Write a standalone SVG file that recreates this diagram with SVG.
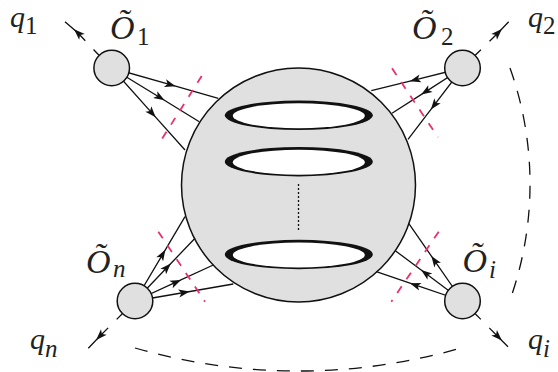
<svg xmlns="http://www.w3.org/2000/svg" width="558" height="372" viewBox="0 0 558 372">
<style>
.ln{fill:none;stroke:#111;stroke-width:1.3;marker-mid:url(#ah)}
.qd{fill:none;stroke:#111;stroke-width:1.3;stroke-dasharray:8 12 40;marker-mid:url(#ah)}
.cut{fill:none;stroke:#e8306a;stroke-width:1.8;stroke-dasharray:8 8.5}
.arc{fill:none;stroke:#111;stroke-width:1.3;stroke-dasharray:13 11}
.nd{fill:#e0e0e0;stroke:#111;stroke-width:1.5}
.lbl{font-family:"Liberation Serif","DejaVu Serif",serif;font-style:italic;font-size:30px;fill:#222}
.sub{font-family:"Liberation Serif","DejaVu Serif",serif;font-style:normal;font-size:25px;fill:#222}
.subi{font-family:"Liberation Serif","DejaVu Serif",serif;font-style:italic;font-size:25px;fill:#222}
.cal{font-family:"Liberation Serif","DejaVu Serif",serif;font-style:italic;font-size:34px;fill:#222}
</style>
<defs>
<marker id="ah" markerUnits="userSpaceOnUse" markerWidth="14" markerHeight="14" viewBox="-7 -7 14 14" refX="0" refY="0" orient="auto" overflow="visible">
<path d="M5.5,0 L-5.5,-4 L-2.8,0 L-5.5,4 Z" fill="#111"/>
</marker>
</defs>
<g id="blob">
<circle cx="298.5" cy="185" r="117" class="nd"/>
<ellipse cx="298.8" cy="115.3" rx="74" ry="14.7" fill="#111"/>
<ellipse cx="298.8" cy="115.8" rx="66" ry="12.5" fill="#fff"/>
<ellipse cx="298.8" cy="161.7" rx="74" ry="14.7" fill="#111"/>
<ellipse cx="298.8" cy="162.2" rx="66" ry="12.5" fill="#fff"/>
<ellipse cx="298.8" cy="254.5" rx="74" ry="14.7" fill="#111"/>
<ellipse cx="298.8" cy="255" rx="66" ry="12.5" fill="#fff"/>
<line x1="298.5" y1="184" x2="298.5" y2="232" stroke="#111" stroke-width="1.3" stroke-dasharray="2 2"/>
</g>
<g id="connectors">
<path class="ln" d="M111.7,68 L170.3,84.7 L218.3,98.3"/>
<path class="ln" d="M111.7,68 L159.9,97.5 L199.3,121.7"/>
<path class="ln" d="M111.7,68 L152,113.1 L185,150"/>
<path class="ln" d="M462.5,68 L415.1,79.8 L371.3,90.7"/>
<path class="ln" d="M462.5,68 L425.8,91.6 L392,113.3"/>
<path class="ln" d="M462.5,68 L434.2,105.1 L408,139.3"/>
<path class="ln" d="M135,301 L162.5,254.6 L185,216.7"/>
<path class="ln" d="M135,301 L167,267.5 L195,238.3"/>
<path class="ln" d="M135,301 L176,282.2 L213.3,265"/>
<path class="ln" d="M135,301 L184.2,292.5 L233.3,284"/>
<path class="ln" d="M462.5,301 L434.5,260.6 L408.7,223.3"/>
<path class="ln" d="M462.5,301 L425.5,273.3 L395.3,250.7"/>
<path class="ln" d="M462.5,301 L415.1,284.9 L376.3,271.7"/>
<path class="qd" d="M99,55.3 L78,33 L65,21.7"/>
<path class="qd" d="M475.2,55.3 L498,33 L508.7,21.7"/>
<path class="qd" d="M122.3,313.7 L100,336 L88.3,348.3"/>
<path class="qd" d="M475.2,313.7 L498,336.7 L508,346.7"/>
<path class="cut" d="M201.7,76 L157.7,145.7"/>
<path class="cut" d="M392,68.3 L438,137.3"/>
<path class="cut" d="M158.3,231.7 L205,301.7"/>
<path class="cut" d="M438.7,231.7 L391.3,301.7"/>
<path class="arc" d="M510,68 A346,346 0 0 1 510,300"/>
<path class="arc" d="M135,348 A589,589 0 0 0 461,348"/>
</g>
<g id="O1">
<circle cx="111.7" cy="68" r="17.8" class="nd"/>
<text class="cal" x="110" y="39">Õ<tspan class="sub" x="137" y="45">1</tspan></text>
</g>
<g id="O2">
<circle cx="462.5" cy="68" r="17.8" class="nd"/>
<text class="cal" x="412" y="39">Õ<tspan class="sub" x="441" y="45">2</tspan></text>
</g>
<g id="On">
<circle cx="135" cy="301" r="17.8" class="nd"/>
<text class="cal" x="86" y="273">Õ<tspan class="subi" x="113" y="277">n</tspan></text>
</g>
<g id="Oi">
<circle cx="462.5" cy="301" r="17.8" class="nd"/>
<text class="cal" x="462.5" y="272">Õ<tspan class="subi" x="489" y="278">i</tspan></text>
</g>
<g id="labels">
<text class="lbl" x="10" y="27">q<tspan class="sub" dy="7">1</tspan></text>
<text class="lbl" x="528" y="27">q<tspan class="sub" dy="7">2</tspan></text>
<text class="lbl" x="30" y="349">q<tspan class="subi" dy="8">n</tspan></text>
<text class="lbl" x="528" y="349">q<tspan class="subi" dy="8">i</tspan></text>
</g>
</svg>
